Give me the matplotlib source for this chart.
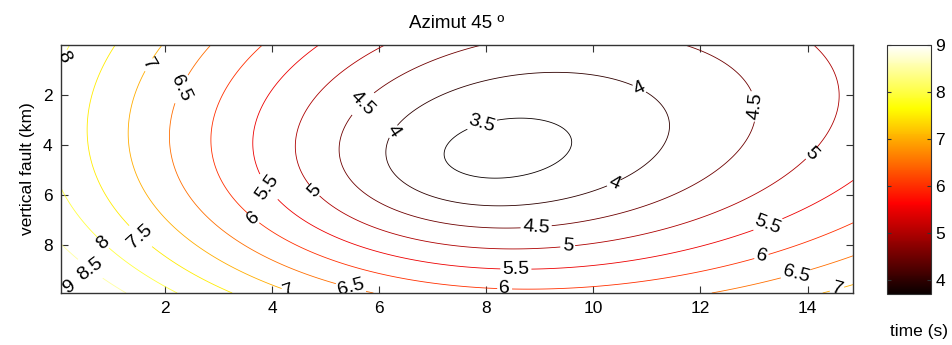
import matplotlib
matplotlib.use('Agg')
import matplotlib.pyplot as plt
import numpy as np

plt.rcParams['font.family'] = ['Liberation Sans', 'DejaVu Sans']

# travel-time surface fitted to the isochrones
# t = t0 + sqrt(h^2 + a dx^2 + b dy^2 + 2c dx dy) + gx dx + gy dy
x0, y0 = 7.767, 4.738          # centre (km along strike, km depth)
t0, h = 2.642, 0.743
a, b, c = 0.2718, 0.2673, 0.0281
gx, gy = -0.1489, 0.1422

levels = np.arange(3.5, 9.01, 0.5)
t_min, t_max = 3.7, 9.0

# where the contour labels sit (x, depth)
label_pos = [(7.95, 3.4),
             (6.22, 3.4), (10.89, 1.6), (10.36, 5.4),
             (5.68, 2.32), (13.2, 2.4), (8.93, 7.27),
             (4.84, 5.7), (14.13, 4.47), (9.52, 8.07),
             (3.97, 5.6), (8.55, 9.0), (13.29, 7.33),
             (3.69, 6.8), (8.34, 9.73), (13.16, 8.6),
             (2.26, 1.72), (5.47, 9.67), (13.79, 9.2),
             (1.70, 0.8), (4.32, 9.73), (14.54, 9.67),
             (1.55, 7.6), (0.11, 0.47), (0.86, 7.87),
             (0.61, 8.9), (0.2, 9.67)]

x = np.arange(0.05, 14.9, 0.05)
y = np.arange(0.0, 9.95, 0.05)
xx, yy = np.meshgrid(x, y)
dx = xx - x0
dy = yy - y0
tt = t0 + np.sqrt(h*h + a*dx*dx + b*dy*dy + 2*c*dx*dy) + gx*dx + gy*dy

fig = plt.figure(figsize=(9.52, 3.45), dpi=100)
ax = fig.add_axes([61/952, 52/345, 792/952, 248/345])
cs = ax.contour(xx, yy, tt, levels=levels, cmap='hot', vmin=t_min, vmax=t_max,
                linewidths=0.6)
ax.clabel(cs, fmt='%g', fontsize=14, colors='black', manual=label_pos, inline_spacing=2)
ax.set_xlim(0.05, 14.85)
ax.set_ylim(9.9, 0)
ax.set_xticks(range(2, 15, 2))
ax.set_yticks([2, 4, 6, 8])
ax.tick_params(direction='in', top=True, right=True, labelsize=12.5, length=5, pad=6,
               color='#333333')
for s in ax.spines.values():
    s.set_color('#333333')
    s.set_linewidth(1.0)
ax.set_ylabel('vertical fault (km)', fontsize=12.5, labelpad=6)
ax.set_title('Azimut 45 º', fontsize=13.5, pad=12)

cax = fig.add_axes([887/952, 51/345, 44/952, 249/345])
sm = plt.cm.ScalarMappable(norm=plt.Normalize(t_min, t_max), cmap='hot')
cb = fig.colorbar(sm, cax=cax, ticks=range(4, 10))
cb.outline.set_color('#333333')
cax.tick_params(direction='in', labelsize=12.5, length=3, left=True, right=True, pad=3,
                color='#333333')
cax.text(0.73, -0.12, 'time (s)', transform=cax.transAxes, ha='center', va='top',
         fontsize=12.5)

fig.savefig('out.png')
